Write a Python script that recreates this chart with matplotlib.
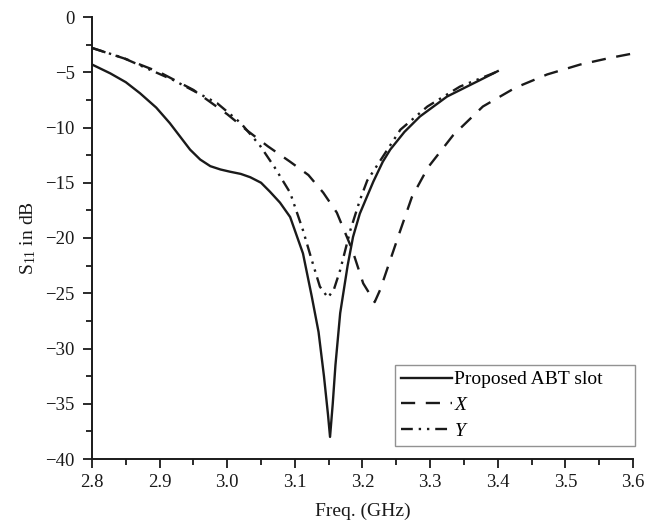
import matplotlib
matplotlib.use("Agg")
import matplotlib.pyplot as plt
from matplotlib.ticker import MultipleLocator

plt.rcParams['font.family'] = ['Liberation Serif', 'DejaVu Serif']
plt.rcParams['mathtext.fontset'] = 'custom'
plt.rcParams['mathtext.rm'] = 'Liberation Serif'
plt.rcParams['mathtext.it'] = 'Liberation Serif:italic'

# Proposed ABT slot (solid)
f_prop = [2.80, 2.827, 2.85, 2.871, 2.895, 2.915, 2.93, 2.945, 2.96, 2.975, 2.99,
          3.004, 3.02, 3.034, 3.05, 3.063, 3.078, 3.093, 3.112, 3.125, 3.135, 3.143,
          3.149, 3.152, 3.156, 3.160, 3.167, 3.178, 3.186, 3.196, 3.207, 3.216, 3.230,
          3.241, 3.262, 3.285, 3.325, 3.374, 3.40]
s_prop = [-4.3, -5.1, -5.9, -6.9, -8.2, -9.6, -10.8, -12.0, -12.9, -13.5, -13.8,
          -14.0, -14.2, -14.5, -15.0, -15.8, -16.8, -18.1, -21.4, -25.3, -28.5, -32.5,
          -36.0, -38.0, -35.0, -31.5, -26.8, -22.5, -19.9, -17.8, -16.2, -14.9, -13.1,
          -12.0, -10.4, -9.0, -7.2, -5.7, -4.9]

# X (dashed)
f_x = [2.80, 2.85, 2.90, 2.95, 3.00, 3.03, 3.06, 3.093, 3.12, 3.142, 3.162, 3.185,
       3.201, 3.218, 3.226, 3.241, 3.256, 3.273, 3.297, 3.334, 3.378, 3.426, 3.473,
       3.522, 3.566, 3.60]
s_x = [-2.8, -3.8, -5.0, -6.6, -8.8, -10.3, -11.7, -13.1, -14.3, -15.9, -17.7, -21.1,
       -24.1, -25.8, -24.7, -22.0, -19.3, -16.3, -13.6, -10.7, -8.1, -6.4, -5.2,
       -4.3, -3.7, -3.3]

# Y (dash-dot-dot)
f_y = [2.80, 2.846, 2.92, 2.985, 3.02, 3.048, 3.07, 3.093, 3.112, 3.125, 3.137, 3.149,
       3.158, 3.167, 3.182, 3.196, 3.207, 3.222, 3.256, 3.296, 3.344, 3.393, 3.40]
s_y = [-2.8, -3.7, -5.7, -7.8, -9.6, -11.6, -13.6, -15.9, -19.3, -22.0, -24.4, -25.4,
       -24.6, -22.9, -19.3, -16.6, -14.8, -13.4, -10.2, -8.1, -6.3, -5.1, -4.9]

labels = ['Proposed ABT slot', '$\\mathit{X}$', '$\\mathit{Y}$']

fig = plt.figure(figsize=(6.62, 5.26), dpi=100)
ax = fig.add_axes([92/662, 1 - 459/526, 541/662, 442/526])

ax.plot(f_prop, s_prop, color='#1a1a1a', lw=1.7, ls='-', label=labels[0])
ax.plot(f_x, s_x, color='#1a1a1a', lw=1.7, ls=(0, (6, 4.5)), label=labels[1])
ax.plot(f_y, s_y, color='#1a1a1a', lw=1.7, ls=(0, (5, 2.5, 1, 2.5, 1, 2.5)), label=labels[2])

ax.set_xlim(2.8, 3.6)
ax.set_ylim(-40, 0)
ax.xaxis.set_major_locator(MultipleLocator(0.1))
ax.xaxis.set_minor_locator(MultipleLocator(0.05))
ax.yaxis.set_major_locator(MultipleLocator(5))
ax.yaxis.set_minor_locator(MultipleLocator(2.5))
ax.set_xticklabels([f"{v:.1f}" for v in ax.get_xticks()])
ax.tick_params(which='major', direction='out', length=6.5, width=1.3, labelsize=13.5,
               colors='#1a1a1a')
ax.tick_params(axis='y', which='major', pad=6)
ax.tick_params(axis='x', which='major', pad=4)
ax.tick_params(which='minor', direction='out', length=4, width=1.3, colors='#1a1a1a')
for s in ['top', 'right']:
    ax.spines[s].set_visible(False)
for s in ['left', 'bottom']:
    ax.spines[s].set_linewidth(1.4)
    ax.spines[s].set_color('#1a1a1a')

ax.set_xlabel('Freq. (GHz)', fontsize=14, labelpad=9, color='#1a1a1a')
ax.set_ylabel('S$_{\\mathrm{11}}$ in dB', fontsize=14, labelpad=5, color='#1a1a1a')

leg = ax.legend(loc='lower left', bbox_to_anchor=(0.56, 0.029, 0.444, 0.18), mode='expand',
                fontsize=14, handlelength=2.6, handletextpad=0.1, borderaxespad=0,
                fancybox=False, frameon=True, labelspacing=0.42, borderpad=0.32)
leg.get_frame().set_edgecolor('#777777')
leg.get_frame().set_linewidth(1.0)

fig.savefig('out.png', dpi=100)
